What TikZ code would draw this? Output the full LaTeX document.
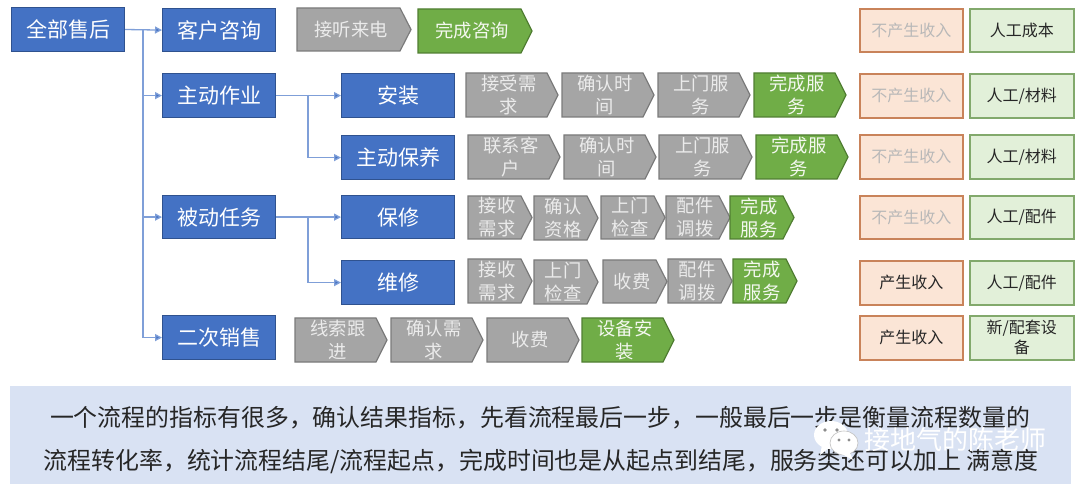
\documentclass[tikz,border=0pt]{standalone}
\usepackage{fontspec}
\setmainfont{Noto Sans CJK SC}
\usetikzlibrary{arrows.meta}
\definecolor{cblue}{HTML}{4472C4}\definecolor{cblueb}{HTML}{2F528F}
\definecolor{cgrey}{HTML}{A5A5A5}\definecolor{cgreyb}{HTML}{7B7B7B}
\definecolor{cgreen}{HTML}{70AD47}\definecolor{cgreenb}{HTML}{507E32}
\definecolor{corange}{HTML}{FBE5D6}\definecolor{corangeb}{HTML}{C9835A}
\definecolor{clime}{HTML}{E2F0D9}\definecolor{climeb}{HTML}{82A96C}
\definecolor{cband}{HTML}{D9E2F3}\definecolor{cline}{HTML}{7F9FD8}
\newcommand\fwc{^^^^ff0c}
\tikzset{
  bluebox/.style={draw=cblueb,fill=cblue,line width=1.2pt,text=white,anchor=north west,inner sep=0pt,align=center,font=\fontsize{21}{24}\selectfont},
  greych/.style={draw=cgreyb,fill=cgrey,line width=1.2pt},
  greench/.style={draw=cgreenb,fill=cgreen,line width=1.2pt},
  chevtext/.style={text=#1,inner sep=0pt,align=center,font=\fontsize{18.3}{23}\selectfont},
  orangebox/.style={draw=corangeb,fill=corange,line width=1.6pt,inner sep=0pt,align=center,font=\fontsize{16}{20}\selectfont},
  limebox/.style={draw=climeb,fill=clime,line width=1.6pt,inner sep=0pt,align=center,font=\fontsize{16}{20}\selectfont},
  conn/.style={draw=cline,line width=1.3pt,-{Triangle[length=7pt,width=7pt,fill=cblue]}},
  bandtext/.style={text=black!85,inner sep=0pt,font=\fontsize{23.9}{28}\selectfont},
  marktext/.style={text=white,inner sep=0pt,font=\fontsize{26}{30}\selectfont},
}
\newcommand\chevshape[8]{%
  \draw[#2] (#3,#4) -- ({#5-11},#4) -- (#5,{(#4+#6)/2}) -- ({#5-11},#6) -- (#3,#6) -- cycle;
  \node[chevtext=#7] (#1) at ({(#3+#5)/2-3},{(#4+#6)/2}) {#8};}
\newcommand\bbox[6]{\node[bluebox,minimum width=#4pt,minimum height=#5pt] (#1) at (#2,#3) {#6};}
\begin{document}
\begin{tikzpicture}[x=1pt,y=-1pt]
\useasboundingbox (0,0) rectangle (1080,489);
\fill[white] (0,0) rectangle (1080,489);
% blue boxes
\bbox{root}{11}{7}{113}{44}{全部售后}
\bbox{consult}{162}{8}{113}{43}{客户咨询}
\bbox{active}{162}{73}{113}{44}{主动作业}
\bbox{install}{341}{73}{113}{44}{安装}
\bbox{upkeep}{341}{135}{113}{44}{主动保养}
\bbox{passive}{162}{195}{113}{43}{被动任务}
\bbox{warranty}{341}{195}{113}{43}{保修}
\bbox{repair}{341}{260}{113}{44}{维修}
\bbox{resale}{162}{315}{113}{44}{二次销售}
% connectors
\coordinate (trunk) at (143,29.5);
\coordinate (fork1) at (308,95);
\coordinate (fork2) at (308,216.5);
\draw[conn] (root.east |- trunk) -- (consult.west);
\draw[conn] (trunk) |- (active.west);
\draw[conn] (trunk) |- (passive.west);
\draw[conn] (trunk) |- (resale.west);
\draw[conn] (active.east) -- (install.west);
\draw[conn] (fork1) |- (upkeep.west);
\draw[conn] (passive.east) -- (warranty.west);
\draw[conn] (fork2) |- (repair.west);
% row 1
\chevshape{a1}{greych}{297}{8}{411}{51}{white!92!black}{接听来电}
\chevshape{a2}{greench}{418}{9}{532}{53}{white!92!cgreen}{完成咨询}
% install
\chevshape{b1}{greych}{466}{73}{558}{117}{white!92!black}{接受需\\求}
\chevshape{b2}{greych}{562}{73}{654}{117}{white!92!black}{确认时\\间}
\chevshape{b3}{greych}{658}{73}{750}{117}{white!92!black}{上门服\\务}
\chevshape{b4}{greench}{754}{73}{846}{117}{white!92!cgreen}{完成服\\务}
% upkeep
\chevshape{c1}{greych}{468}{135}{560}{179}{white!92!black}{联系客\\户}
\chevshape{c2}{greych}{564}{135}{656}{179}{white!92!black}{确认时\\间}
\chevshape{c3}{greych}{659}{135}{752}{179}{white!92!black}{上门服\\务}
\chevshape{c4}{greench}{756}{135}{848}{179}{white!92!cgreen}{完成服\\务}
% warranty
\chevshape{d1}{greych}{468}{196}{532}{239}{white!92!black}{接收\\需求}
\chevshape{d2}{greych}{534}{196}{598}{240}{white!92!black}{确认\\资格}
\chevshape{d3}{greych}{601}{196}{665}{239}{white!92!black}{上门\\检查}
\chevshape{d4}{greych}{666}{196}{730}{239}{white!92!black}{配件\\调拨}
\chevshape{d5}{greench}{730}{196}{794}{239}{white!92!cgreen}{完成\\服务}
% repair
\chevshape{e1}{greych}{468}{259}{532}{303}{white!92!black}{接收\\需求}
\chevshape{e2}{greych}{534}{260}{598}{304}{white!92!black}{上门\\检查}
\chevshape{e3}{greych}{603}{260}{667}{303}{white!92!black}{收费}
\chevshape{e4}{greych}{668}{259}{732}{303}{white!92!black}{配件\\调拨}
\chevshape{e5}{greench}{733}{259}{797}{303}{white!92!cgreen}{完成\\服务}
% resale
\chevshape{f1}{greych}{295}{318}{387}{362}{white!92!black}{线索跟\\进}
\chevshape{f2}{greych}{391}{318}{483}{362}{white!92!black}{确认需\\求}
\chevshape{f3}{greych}{487}{318}{579}{362}{white!92!black}{收费}
\chevshape{f4}{greench}{582}{318}{674}{362}{white!92!cgreen}{设备安\\装}
% right columns
\foreach \nm/\y/\h/\txt/\col in {g1/8/43/不产生收入/black!28,g2/73/44/不产生收入/black!28,g3/134/44/不产生收入/black!28,g4/195/43/不产生收入/black!28,g5/260/44/产生收入/black!85,g6/315/44/产生收入/black!85}
  \node[orangebox,text=\col,anchor=north west,minimum width=103pt,minimum height=\h pt] (\nm) at (859,\y) {\txt};
\foreach \nm/\y/\h/\txt in {h1/8/43/{人工成本},h2/73/44/{人工/材料},h3/134/44/{人工/材料},h4/195/43/{人工/配件},h5/260/44/{人工/配件}}
  \node[limebox,text=black!85,anchor=north west,minimum width=104pt,minimum height=\h pt] (\nm) at (969,\y) {\txt};
\node[limebox,text=black!85,anchor=north west,minimum width=104pt,minimum height=44pt] (h6) at (969,315) {新/配套设\\备};
% bottom band
\fill[cband] (10,386) rectangle (1071,484);
\node[bandtext] (line1) at (540,418) {一个流程的指标有很多\fwc 确认结果指标\fwc 先看流程最后一步\fwc 一般最后一步是衡量流程数量的};
\node[bandtext] (line2) at (541,461) {流程转化率\fwc 统计流程结尾/流程起点\fwc 完成时间也是从起点到结尾\fwc 服务类还可以加上 满意度};
% watermark
\fill[white] (831,435) ellipse [x radius=17,y radius=14];
\fill[white] (822,445) -- (820,455) -- (830,447) -- cycle;
\fill[black!45] (825,430) circle (1.8) (837,430) circle (1.8);
\draw[black!25,fill=white,line width=.6pt] (844,443) ellipse [x radius=14,y radius=12];
\fill[white] (849,451) -- (853,460) -- (842,454) -- cycle;
\fill[black!45] (839,440) circle (1.7) (849,440) circle (1.7);
\node[marktext] (mark) at (955,440) {接地气的陈老师};
\end{tikzpicture}
\end{document}
